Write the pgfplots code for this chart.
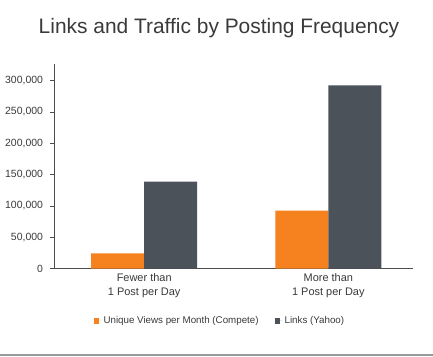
\documentclass[border=0pt]{standalone}
\usepackage{pgfplots}
\pgfplotsset{compat=1.18}
\usepackage{fontspec}
\setmainfont{Liberation Sans}
\definecolor{corange}{HTML}{F5821F}
\definecolor{cgray}{HTML}{4B525A}
\definecolor{ctext}{HTML}{3A3A3A}
\begin{document}
\begin{tikzpicture}[x=1bp,y=1bp]
\useasboundingbox (0,0) rectangle (433,356);
\fill[white] (0,0) rectangle (433,356);
\draw[line width=2bp, color=black!40] (0,1.5) -- (433,1.5);
\node[text=ctext, font=\fontsize{21}{24}\selectfont] at (219,328) {Links and Traffic by Posting Frequency};
\begin{axis}[
  at={(144.2bp,87.5bp)}, anchor=origin,
  scale only axis, width=359bp, height=204bp,
  xmin=-0.49, xmax=1.46,
  ymin=0, ymax=325500,
  axis x line*=bottom, axis y line*=left,
  axis line style={black!70, line width=0.6bp},
  separate axis lines,
  ytick={0,50000,100000,150000,200000,250000,300000},
  scaled y ticks=false,
  yticklabel style={/pgf/number format/fixed, /pgf/number format/1000 sep={,}, /pgf/number format/assume math mode=true},
  yticklabel style={font=\fontsize{10.5}{12}\selectfont, text=ctext, xshift=-3.5bp},
  xtick={0,1},
  xticklabels={{Fewer than\\1 Post per Day},{More than\\1 Post per Day}},
  xticklabel style={align=center, font=\fontsize{11}{13.5}\selectfont, text=ctext, yshift=2bp},
  x tick style={draw=none},
  ytick style={black!70},
  tick align=outside, major tick length=4bp,
  ybar, bar width=53bp,
  legend style={at={(0.462,-0.257)}, anchor=center, draw=none, legend columns=2,
    font=\fontsize{9.8}{12}\selectfont, text=ctext, fill=none,
    /tikz/every even column/.append style={column sep=14bp}},
  legend image code/.code={\fill[#1] (0bp,-2.8bp) rectangle (5.5bp,2.8bp); \path (0bp,0bp) -- (8bp,0bp);},
]
\addplot[fill=corange, draw=none, bar shift=-26.5bp] coordinates {(0,24000) (1,92500)};
\addlegendentry{Unique Views per Month (Compete)}
\addplot[fill=cgray, draw=none, bar shift=26.5bp] coordinates {(0,138500) (1,292000)};
\addlegendentry{Links (Yahoo)}
\end{axis}
\end{tikzpicture}
\end{document}
